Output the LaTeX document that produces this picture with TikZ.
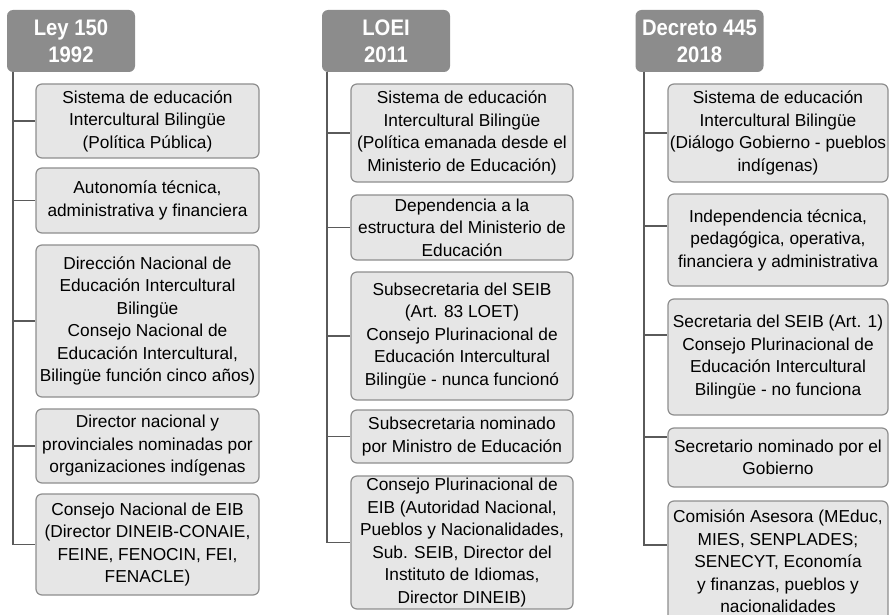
\documentclass[tikz,border=0pt]{standalone}
\usepackage{fontspec}
\setmainfont{Liberation Sans}
\newfontfamily\headfont[FakeStretch=0.9]{Liberation Sans}

\definecolor{headgray}{HTML}{8C8C8C}
\definecolor{boxfill}{HTML}{E6E6E6}
\definecolor{boxline}{HTML}{8E8E8E}
\definecolor{trunkgray}{HTML}{5A5A5A}

\tikzset{
  header/.style={fill=headgray, rounded corners=6pt, text=white, align=center,
    font=\headfont\bfseries\fontsize{22.5}{27}\selectfont,
    minimum width=128pt, minimum height=62pt, inner sep=0pt},
  itembox/.style={draw=boxline, fill=boxfill, line width=1.2pt, rounded corners=6pt,
    align=center, font=\fontsize{17.3}{22.5}\selectfont, inner sep=0pt},
  trunk/.style={draw=trunkgray, line width=1.8pt}
}

\begin{document}
\begin{tikzpicture}[x=1pt,y=-1pt]
  \useasboundingbox (0,0) rectangle (889,615);

  % Headers
  \node[header] (h1) at (71,41) {Ley 150\\1992};
  \node[header] (h2) at (386,41) {LOEI\\2011};
  \node[header] (h3) at (699.5,41) {Decreto 445\\2018};

  % Ley 150
  \foreach \i/\y/\h/\txt in {
    1/121/74/{Sistema de educación\\Intercultural Bilingüe\\(Política Pública)},
    2/200.5/65/{Autonomía técnica,\\administrativa y financiera},
    3/321/152/{Dirección Nacional de\\Educación Intercultural\\Bilingüe\\Consejo Nacional de\\Educación Intercultural,\\Bilingüe función cinco años)},
    4/446/74/{Director nacional y\\provinciales nominadas por\\organizaciones indígenas},
    5/544.5/101/{Consejo Nacional de EIB\\(Director DINEIB-CONAIE,\\FEINE, FENOCIN, FEI,\\FENACLE)}} {
    \node[itembox, minimum width=223pt, minimum height=\h pt] (b1\i) at (147.5,\y) {\txt};
  }

  % LOEI
  \foreach \i/\y/\h/\txt in {
    1/133/98/{Sistema de educación\\Intercultural Bilingüe\\(Política emanada desde el\\Ministerio de Educación)},
    2/227.5/65/{Dependencia a la\\estructura del Ministerio de\\Educación},
    3/336/128/{Subsecretaria del SEIB\\(Art. 83 LOET)\\Consejo Plurinacional de\\Educación Intercultural\\Bilingüe - nunca funcionó},
    4/436.5/53/{Subsecretaria nominado\\por Ministro de Educación},
    5/542.5/133/{Consejo Plurinacional de\\EIB (Autoridad Nacional,\\Pueblos y Nacionalidades,\\Sub. SEIB, Director del\\Instituto de Idiomas,\\Director DINEIB)}} {
    \node[itembox, minimum width=222pt, minimum height=\h pt] (b2\i) at (462,\y) {\txt};
  }

  % Decreto 445
  \foreach \i/\y/\h/\txt in {
    1/133/98/{Sistema de educación\\Intercultural Bilingüe\\(Diálogo Gobierno - pueblos\\indígenas)},
    2/240/92/{Independencia técnica,\\pedagógica, operativa,\\financiera y administrativa},
    3/357/116/{Secretaria del SEIB (Art. 1)\\Consejo Plurinacional de\\Educación Intercultural\\Bilingüe - no funciona},
    4/457.5/59/{Secretario nominado por el\\Gobierno},
    5/561.5/121/{Comisión Asesora (MEduc,\\MIES, SENPLADES;\\SENECYT, Economía\\y finanzas, pueblos y\\nacionalidades}} {
    \node[itembox, minimum width=220pt, minimum height=\h pt] (b3\i) at (778,\y) {\txt};
  }

  % Trunks
  \coordinate (t1) at (13,72);
  \coordinate (t2) at (327,72);
  \coordinate (t3) at (644,72);
  \foreach \i in {1,...,5} {
    \draw[trunk] (t1) |- (b1\i.west);
    \draw[trunk] (t2) |- (b2\i.west);
  }
  \foreach \i/\dy in {1/0,2/14,3/22,4/20.5,5/16.5} {
    \draw[trunk] (t3) |- ([yshift=\dy pt]b3\i.west);
  }
\end{tikzpicture}
\end{document}
